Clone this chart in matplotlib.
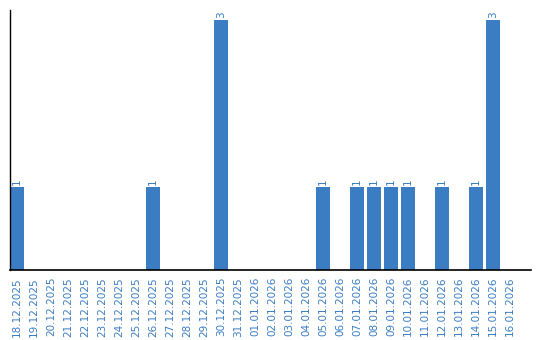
import matplotlib.pyplot as plt
import numpy as np

dates = ["18.12.2025", "19.12.2025", "20.12.2025", "21.12.2025", "22.12.2025",
         "23.12.2025", "24.12.2025", "25.12.2025", "26.12.2025", "27.12.2025",
         "28.12.2025", "29.12.2025", "30.12.2025", "31.12.2025", "01.01.2026",
         "02.01.2026", "03.01.2026", "04.01.2026", "05.01.2026", "06.01.2026",
         "07.01.2026", "08.01.2026", "09.01.2026", "10.01.2026", "11.01.2026",
         "12.01.2026", "13.01.2026", "14.01.2026", "15.01.2026", "16.01.2026"]
counts = [1, 0, 0, 0, 0, 0, 0, 0, 1, 0,
          0, 0, 3, 0, 0, 0, 0, 0, 1, 0,
          1, 1, 1, 1, 0, 1, 0, 1, 3, 0]

blue = "#3b7dc2"

fig = plt.figure(figsize=(5.4, 3.4), dpi=100)
ax = fig.add_axes([10 / 540, 70 / 340, 521 / 540, 260 / 340])

x = np.arange(len(dates))
ax.bar(x, counts, width=14 / 17, align="edge", color=blue)

# value labels above the bars
for xi, c in zip(x, counts):
    if c > 0:
        ax.text(xi + 7 / 17, c + 0.02, str(c), rotation=90, ha="center", va="bottom",
                color=blue, fontsize=7.5)

ax.set_xticks(x + 7 / 17)
ax.set_xticklabels(dates, rotation=90, color=blue, fontsize=7.5)
ax.tick_params(axis="x", length=0, pad=5)
ax.set_yticks([])

ax.set_xlim(0, 521 / 17)
ax.set_ylim(0, 3.12)

for side in ["top", "right"]:
    ax.spines[side].set_visible(False)
ax.spines["left"].set_linewidth(1)
ax.spines["bottom"].set_linewidth(1.2)

fig.savefig("out.png", dpi=100)
